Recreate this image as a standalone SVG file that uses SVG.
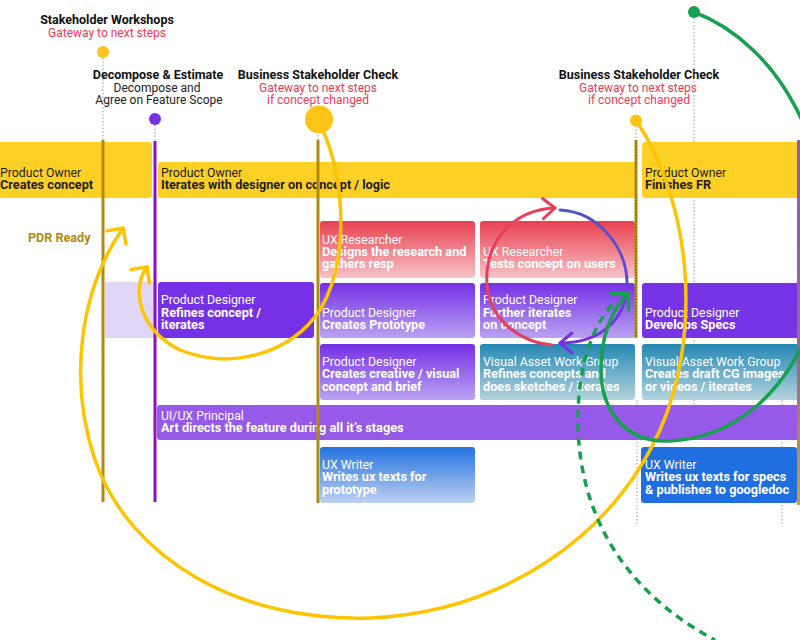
<svg xmlns="http://www.w3.org/2000/svg" width="800" height="640" viewBox="0 0 800 640">
<style>
text{font-family:Roboto,"Liberation Sans",sans-serif;font-size:12.3px}
.b{font-weight:700;font-size:12.7px}
.w{fill:#ffffff}
.dk{fill:#1e1e1e}
.hd{font-weight:700;font-size:12.5px;fill:#111;text-anchor:middle}
.sub{fill:#222;text-anchor:middle;font-size:12px}
.red{fill:#ee3a55;text-anchor:middle;font-size:12px}
.pdr{font-weight:700;fill:#b08a12;font-size:12.6px}
.dot{stroke:#9a9a9a;stroke-width:1;stroke-dasharray:1.5 2;fill:none}
.vg{stroke:#b38b0c;stroke-width:3}
.vp{stroke:#8b10c4;stroke-width:3}
.yl{fill:#fdd026}
.arcY{fill:none;stroke:#ffc400;stroke-width:3.5;stroke-linecap:round}
.arcR{fill:none;stroke:#e8405a;stroke-width:3;stroke-linecap:round}
.arcP{fill:none;stroke:url(#gArcP);stroke-width:3;stroke-linecap:round}
.arcG{fill:none;stroke:#17a04f;stroke-width:3.5;stroke-linecap:round}
.dash{stroke-dasharray:8 6;stroke-linecap:butt}
</style>
<defs>
<linearGradient id="gRed" x1="0" y1="0" x2="0" y2="1"><stop offset="0" stop-color="#e8404f"/><stop offset="1" stop-color="#f6c3c7"/></linearGradient>
<linearGradient id="gPur" x1="0" y1="0" x2="0" y2="1"><stop offset="0" stop-color="#7530e6"/><stop offset="1" stop-color="#b9a2f1"/></linearGradient>
<linearGradient id="gTeal" x1="0" y1="0" x2="0" y2="1"><stop offset="0" stop-color="#2587b3"/><stop offset="1" stop-color="#b3d3dd"/></linearGradient>
<linearGradient id="gBlue" x1="0" y1="0" x2="0" y2="1"><stop offset="0" stop-color="#2472e0"/><stop offset="1" stop-color="#bdd0f0"/></linearGradient>
<linearGradient id="gEdge" x1="0" y1="0" x2="0" y2="1"><stop offset="0" stop-color="#8e55d0"/><stop offset="0.6" stop-color="#a0648f"/><stop offset="1" stop-color="#d0a020"/></linearGradient>
<linearGradient id="gArcP" x1="0" y1="0" x2="0" y2="1"><stop offset="0" stop-color="#4f55c4"/><stop offset="1" stop-color="#7a2fe6"/></linearGradient>
<marker id="mY" markerUnits="userSpaceOnUse" markerWidth="40" markerHeight="40" orient="auto" overflow="visible"><path d="M-11.5,-11.5 L0,0 L-11.5,11.5" fill="none" stroke="#ffc400" stroke-width="3.5" stroke-linecap="round" stroke-linejoin="round"/></marker>
<marker id="mR" markerUnits="userSpaceOnUse" markerWidth="40" markerHeight="40" orient="auto" overflow="visible"><path d="M-12,-10 L0,0 L-12,10" fill="none" stroke="#e8405a" stroke-width="3" stroke-linecap="round" stroke-linejoin="round"/></marker>
<marker id="mP" markerUnits="userSpaceOnUse" markerWidth="40" markerHeight="40" orient="auto" overflow="visible"><path d="M-12,-10 L0,0 L-12,10" fill="none" stroke="#7a2fe6" stroke-width="3" stroke-linecap="round" stroke-linejoin="round"/></marker>
<marker id="mG" markerUnits="userSpaceOnUse" markerWidth="40" markerHeight="40" orient="auto" overflow="visible"><path d="M-12,-12 L0,0 L-12,12" fill="none" stroke="#17a04f" stroke-width="3.5" stroke-linecap="round" stroke-linejoin="round"/></marker>
</defs>
<rect width="800" height="640" fill="#ffffff"/>

<g id="milestones">
<g id="ms-workshops">
<text class="hd" x="107" y="24">Stakeholder Workshops</text>
<text class="red" x="107" y="37">Gateway to next steps</text>
<line class="dot" x1="103" y1="58" x2="103" y2="140"/>
<circle cx="103" cy="52" r="6" fill="#fcc419"/>
</g>
<g id="ms-decompose">
<text class="hd" x="158" y="79">Decompose &amp; Estimate</text>
<text class="sub" x="157" y="92">Decompose and</text>
<text class="sub" x="159" y="104">Agree on Feature Scope</text>
<line class="dot" x1="155" y1="125" x2="155" y2="141"/>
<circle cx="155" cy="119" r="6" fill="#7a2fe0"/>
</g>
<g id="ms-check1">
<text class="hd" x="318" y="79">Business Stakeholder Check</text>
<text class="red" x="318" y="92">Gateway to next steps</text>
<text class="red" x="318" y="104">if concept changed</text>
<line class="dot" x1="318" y1="128" x2="318" y2="141"/>
<circle cx="319" cy="119.5" r="14" fill="#fcc419"/>
</g>
<g id="ms-check2">
<text class="hd" x="639" y="79">Business Stakeholder Check</text>
<text class="red" x="638" y="92">Gateway to next steps</text>
<text class="red" x="639" y="104">if concept changed</text>
<line class="dot" x1="636" y1="126" x2="636" y2="141"/>
<circle cx="636" cy="120.5" r="6" fill="#fcc419"/>
</g>
<g id="ms-green">
<line class="dot" x1="694" y1="18" x2="694" y2="405"/>
<line class="dot" x1="637" y1="400" x2="637" y2="525"/>
<line class="dot" x1="782" y1="400" x2="782" y2="525"/>
</g>
</g>

<g id="nodes">
<g id="po-creates"><rect class="yl" x="-4" y="142" width="156" height="56" rx="3"/><text class="dk" x="0" y="177">Product Owner</text><text class="dk b" x="0" y="189">Creates concept</text></g>
<g id="po-iterates"><rect class="yl" x="158" y="162" width="478" height="36" rx="3"/><text class="dk" x="161" y="177">Product Owner</text><text class="dk b" x="161" y="189">Iterates with designer on concept / logic</text></g>
<g id="po-finishes"><rect class="yl" x="642" y="142" width="162" height="56" rx="3"/><text class="dk" x="645" y="177">Product Owner</text><text class="dk b" x="645" y="189">Finishes FR</text></g>
<g id="pdr-ready"><text class="pdr" x="28" y="242">PDR Ready</text></g>
<g id="pd-shadow"><rect x="105" y="282" width="52" height="56" fill="#e2d6f8"/></g>
<g id="pd-refines"><rect x="158" y="282" width="156" height="56" rx="3" fill="#7631e6"/><text class="w" x="161" y="304">Product Designer</text><text class="w b" x="161" y="317">Refines concept /</text><text class="w b" x="161" y="329">iterates</text></g>
<g id="uxr-designs"><rect x="320" y="221" width="155" height="57" rx="3" fill="url(#gRed)"/><text class="w" x="322" y="244">UX Researcher</text><text class="w b" x="322" y="256">Designs the research and</text><text class="w b" x="322" y="268">gathers resp</text></g>
<g id="uxr-tests"><rect x="480" y="221" width="155" height="57" rx="3" fill="url(#gRed)"/><text class="w" x="483" y="256">UX Researcher</text><text class="w b" x="483" y="268">Tests concept on users</text></g>
<g id="pd-prototype"><rect x="320" y="283" width="155" height="55" rx="3" fill="url(#gPur)"/><text class="w" x="322" y="317">Product Designer</text><text class="w b" x="322" y="329">Creates Prototype</text></g>
<g id="pd-further"><rect x="480" y="283" width="155" height="55" rx="3" fill="url(#gPur)"/><text class="w" x="483" y="304">Product Designer</text><text class="w b" x="483" y="317">Further iterates</text><text class="w b" x="483" y="329">on concept</text></g>
<g id="pd-specs"><rect x="642" y="283" width="162" height="55" rx="3" fill="#7733e6"/><text class="w" x="645" y="317">Product Designer</text><text class="w b" x="645" y="329">Develops Specs</text></g>
<g id="pd-creative"><rect x="320" y="344" width="155" height="56" rx="3" fill="url(#gPur)"/><text class="w" x="322" y="366">Product Designer</text><text class="w b" x="322" y="378">Creates creative / visual</text><text class="w b" x="322" y="391">concept and brief</text></g>
<g id="vawg-refines"><rect x="480" y="344" width="155" height="56" rx="3" fill="url(#gTeal)"/><text class="w" x="483" y="366">Visual Asset Work Group</text><text class="w b" x="483" y="378">Refines concepts and</text><text class="w b" x="483" y="391">does sketches / iterates</text></g>
<g id="vawg-creates"><rect x="642" y="344" width="162" height="56" rx="3" fill="url(#gTeal)"/><text class="w" x="645" y="366">Visual Asset Work Group</text><text class="w b" x="645" y="378">Creates draft CG images</text><text class="w b" x="645" y="391">or videos / iterates</text></g>
<g id="uiux-principal"><rect x="157" y="405" width="650" height="35" rx="3" fill="#9659e8"/><text class="w" x="161" y="420">UI/UX Principal</text><text class="w b" x="161" y="432">Art directs the feature during all it’s stages</text></g>
<g id="uxw-prototype"><rect x="320" y="447" width="155" height="56" rx="3" fill="url(#gBlue)"/><text class="w" x="322" y="469">UX Writer</text><text class="w b" x="322" y="481">Writes ux texts for</text><text class="w b" x="322" y="494">prototype</text></g>
<g id="uxw-specs"><rect x="641" y="447" width="156" height="56" rx="3" fill="#1f6fe0"/><text class="w" x="645" y="469">UX Writer</text><text class="w b" x="645" y="481">Writes ux texts for  specs</text><text class="w b" x="645" y="494">&amp; publishes to googledoc</text></g>
</g>

<g id="phase-lines">
<line class="vg" x1="103" y1="140" x2="103" y2="502"/>
<line class="vp" x1="155" y1="141" x2="155" y2="502"/>
<line class="vg" x1="318" y1="140" x2="318" y2="503"/>
<line class="vg" x1="636" y1="140" x2="636" y2="338"/>
<line x1="636" y1="140" x2="636" y2="338" stroke="#7a5a00" stroke-width="1" stroke-dasharray="1 2"/>
<rect x="797" y="140" width="3" height="365" fill="url(#gEdge)"/>
</g>

<g id="connectors">
<path class="arcY" d="M636,120 C695,210 700,340 660,430 C610,540 500,612 370,618 C240,622 130,560 95,460 C68,380 80,290 123,228" marker-end="url(#mY)"/>
<path class="arcY" d="M322,128 C345,180 350,260 320,310 C290,355 230,370 180,350 C140,330 130,290 147,267" marker-end="url(#mY)"/>
<path class="arcR" d="M552,345 C520,342 490,320 487,285 C484,245 510,210 555,208" marker-end="url(#mR)"/>
<path class="arcP" d="M560,210 C600,212 628,250 627,285 C626,320 600,343 560,343" marker-end="url(#mP)"/>
<path class="arcG" d="M694,12 C780,45 835,150 825,260 C818,350 760,440 665,441 C625,441 601,410 601,370 C601,335 612,310 628,293" marker-end="url(#mG)"/>
<path class="arcG dash" d="M612,305 C590,330 578,370 578,420 C578,520 630,595 715,640"/>
<circle cx="694" cy="12" r="6" fill="#17a04f"/>
</g>
</svg>
